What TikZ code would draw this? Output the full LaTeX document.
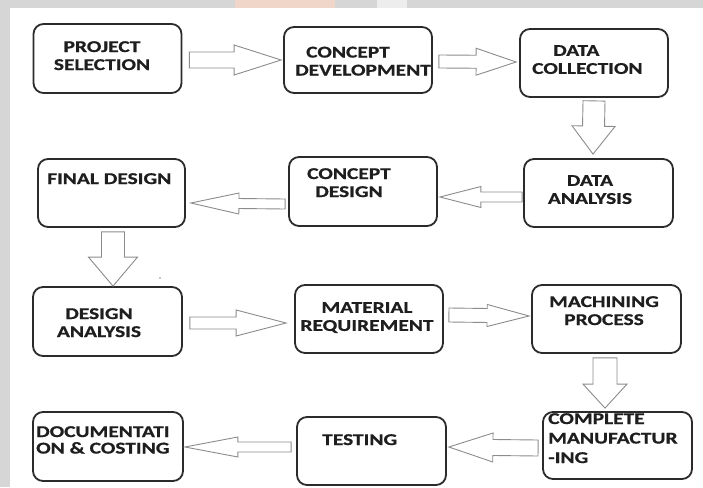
\documentclass[tikz,border=0pt]{standalone}
\usepackage{fontspec}
\setmainfont{Carlito}[FakeStretch=1.3, BoldFeatures={FakeStretch=1.3, FakeBold=0.7}]
\usetikzlibrary{calc}

\definecolor{boxline}{HTML}{2B2B2B}
\definecolor{arrline}{HTML}{8C8C8C}
\definecolor{inktext}{HTML}{1E1E1E}
\definecolor{pagegrey}{HTML}{D6D6D6}
\definecolor{peach}{HTML}{EFD6C8}

\tikzset{
  stage/.style={draw=boxline, line width=1.8pt, rounded corners=10pt,
    inner sep=0pt, minimum width=#1},
  stage/.default=148pt,
  label text/.style={inner sep=0pt, text=inktext,
    font=\bfseries\fontsize{16.5}{18}\selectfont},
  hollow/.style={draw=arrline, line width=0.9pt, fill=white, line join=miter},
}

% hollow block arrow: tail, tip, shaft half width, head half width, head length
\newcommand\blockarrow[5]{%
  \path (#2) coordinate (ptip) (#1) coordinate (ptail);
  \path ($(ptip)!#5!(ptail)$) coordinate (pbase);
  \draw[hollow] ($(ptail)!#3!90:(ptip)$) -- ($(pbase)!#3!-90:(ptail)$)
    -- ($(pbase)!#4!-90:(ptail)$) -- (ptip) -- ($(pbase)!#4!90:(ptail)$)
    -- ($(pbase)!#3!90:(ptail)$) -- ($(ptail)!#3!-90:(ptip)$) -- cycle;
}

\begin{document}
\begin{tikzpicture}[x=1pt, y=-1pt]
  % page with its grey margin
  \fill[pagegrey] (0,0) rectangle (703,487);
  \fill[peach] (235,0) rectangle (335,8);
  \fill[white!93!black] (377,0) rectangle (407,8);
  \fill[white] (10,8) rectangle (703,487);
  \useasboundingbox (0,0) rectangle (703,487);

  % stages
  \node[stage, minimum height=69pt] (ps)    at (107.5, 58.5) {};
  \node[stage, minimum height=66pt] (cdev)  at (358,   60)   {};
  \node[stage, minimum height=68pt] (dcol)  at (594,   63)   {};
  \node[stage=147pt, minimum height=68pt] (fd) at (111.5, 193) {};
  \node[stage, minimum height=69pt] (cdes)  at (363,   191.5) {};
  \node[stage=149pt, minimum height=68pt] (dan) at (598.5, 193) {};
  \node[stage=149pt, minimum height=69pt] (desan) at (107.5, 321.5) {};
  \node[stage, minimum height=68pt] (mat)   at (369,   319)  {};
  \node[stage=149pt, minimum height=68pt] (mach) at (606.5, 319) {};
  \node[stage=150pt, minimum height=69pt] (doc) at (108,  446.5) {};
  \node[stage=149pt, minimum height=68pt] (test) at (371.5, 451) {};
  \node[stage=149pt, minimum height=67pt] (comp) at (617.5, 445.5) {};

  % stage texts
  \node[label text, anchor=north, align=center] (ps-t) at (102, 41) {PROJECT\\SELECTION};
  \node[label text, anchor=north west, align=left] (cdev-t) at (295, 46.5) {\hspace*{11pt}CONCEPT\\DEVELOPMENT};
  \node[label text, anchor=north west, align=left] (dcol-t) at (532, 45) {\hspace*{21pt}DATA\\COLLECTION};
  \node[label text, anchor=north west] (fd-t) at (47, 173) {FINAL DESIGN};
  \node[label text, anchor=north, align=center] (cdes-t) at (349, 168) {CONCEPT\\DESIGN};
  \node[label text, anchor=north, align=center] (dan-t) at (590, 175) {DATA\\ANALYSIS};
  \node[label text, anchor=north, align=center] (desan-t) at (99, 308) {DESIGN\\ANALYSIS};
  \node[label text, anchor=north, align=center] (mat-t) at (367, 302) {MATERIAL\\REQUIREMENT};
  \node[label text, anchor=north, align=center] (mach-t) at (604, 296) {MACHINING\\PROCESS};
  \node[label text, anchor=north west, align=left,
        font=\bfseries\fontsize{16.5}{16.5}\selectfont] (doc-t) at (36, 426) {DOCUMENTATI\\ON \& COSTING};
  \node[label text, anchor=north west] (test-t) at (322, 434) {TESTING};
  \node[label text, anchor=north west, align=left,
        font=\bfseries\fontsize{16.5}{19.5}\selectfont] (comp-t) at (548, 413) {COMPLETE\\MANUFACTUR\\-ING};

  % flow arrows
  \blockarrow{$(ps.east)+(7,1.5)$}{$(cdev.west)+(-2,0)$}{8pt}{15pt}{47pt}
  \blockarrow{$(cdev.east)+(6,1.5)$}{$(dcol.west)+(-3,-1)$}{6.5pt}{13.5pt}{40pt}
  \blockarrow{$(dcol.south)+(0,3)$}{$(dan.north)+(-5.5,-4)$}{11pt}{21.5pt}{28pt}
  \blockarrow{$(dan.west)+(-1,4)$}{$(cdes.east)+(2,5.5)$}{5pt}{10.5pt}{41pt}
  \blockarrow{$(cdes.west)+(-3,12.5)$}{$(fd.east)+(5,10)$}{5pt}{10.5pt}{48pt}
  \blockarrow{$(fd.south)+(1.5,4)$}{$(desan.north)+(5.5,0)$}{11.5pt}{24.5pt}{29pt}
  \blockarrow{$(desan.east)+(7,1.5)$}{$(mat.west)+(-8,4)$}{6pt}{13pt}{50pt}
  \blockarrow{$(mat.east)+(5,-4)$}{$(mach.west)+(-2,-3)$}{7pt}{11pt}{42pt}
  \blockarrow{$(mach.south)+(-1.5,4)$}{$(comp.north)+(-12.5,-3)$}{12pt}{22pt}{24pt}
  \blockarrow{$(comp.west)+(-4,2.5)$}{$(test.east)+(2,-4)$}{8pt}{14.5pt}{44pt}
  \blockarrow{$(test.west)+(-5,-4)$}{$(doc.east)+(1,0.5)$}{5pt}{10pt}{53pt}

  % stray speck
  \fill[arrline] (160,278) circle (0.9);
\end{tikzpicture}
\end{document}
